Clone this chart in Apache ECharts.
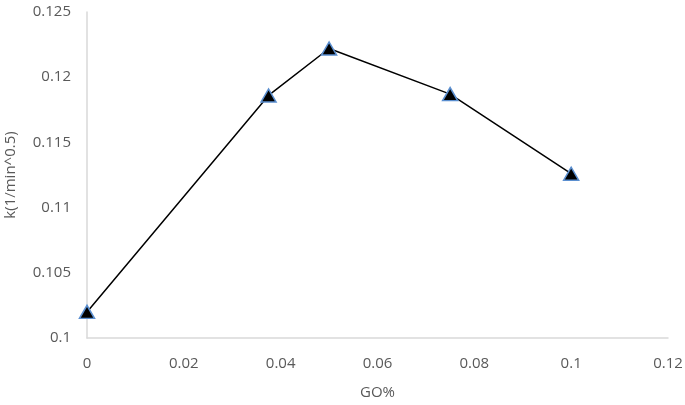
<!DOCTYPE html>
<html>
<head>
<meta charset="utf-8">
<script src="https://cdn.jsdelivr.net/npm/echarts@6/dist/echarts.min.js"></script>
<style>
  html, body { margin: 0; padding: 0; background: #fff; }
  #main { width: 685px; height: 405px; }
</style>
</head>
<body>
<div id="main"></div>
<script>
// data
const goPercent = [0, 0.0375, 0.05, 0.075, 0.1];
const kValues = [0.102, 0.1186, 0.1222, 0.1187, 0.1126];

const chart = echarts.init(document.getElementById('main'), null, { renderer: 'canvas' });

const labelFont = { color: '#595959', fontSize: 15, fontFamily: 'Open Sans' };

const option = {
  animation: false,
  grid: { left: 87, right: 17, top: 12, bottom: 67, containLabel: false, outerBoundsMode: 'none' },
  xAxis: {
    type: 'value',
    min: 0,
    max: 0.12,
    interval: 0.02,
    name: 'GO%',
    nameLocation: 'middle',
    nameGap: 47,
    nameTextStyle: labelFont,
    axisLine: { show: true, lineStyle: { color: '#d9d9d9', width: 1.5 } },
    axisTick: { show: false },
    splitLine: { show: false },
    axisLabel: Object.assign({ margin: 18 }, labelFont)
  },
  yAxis: {
    type: 'value',
    min: 0.1,
    max: 0.125,
    interval: 0.005,
    name: 'k(1/min^0.5)',
    nameLocation: 'middle',
    nameGap: 69,
    nameTextStyle: labelFont,
    axisLine: { show: true, lineStyle: { color: '#d9d9d9', width: 1.5 } },
    axisTick: { show: false },
    splitLine: { show: false },
    axisLabel: Object.assign({ margin: 16, formatter: v => String(+v.toFixed(3)) }, labelFont)
  },
  series: [{
    type: 'line',
    data: goPercent.map((x, i) => [x, kValues[i]]),
    symbol: 'triangle',
    symbolSize: [15, 13],
    itemStyle: { color: '#000', borderColor: '#5b8fd0', borderWidth: 1.5 },
    lineStyle: { color: '#000', width: 1.5 }
  }]
};

chart.setOption(option);
</script>
</body>
</html>
